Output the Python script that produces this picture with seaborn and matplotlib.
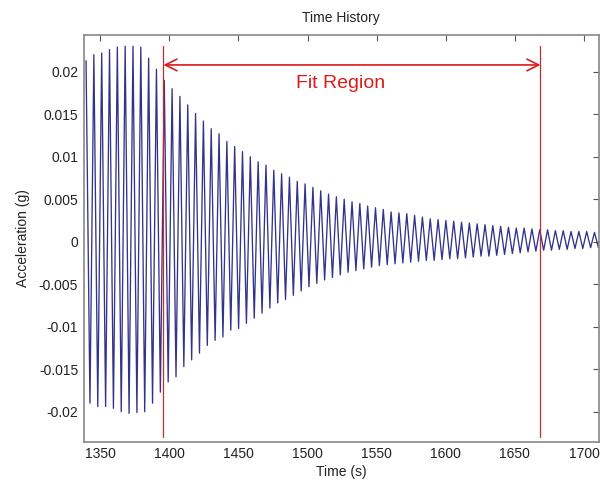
import matplotlib
matplotlib.use("Agg")
import matplotlib.pyplot as plt
import seaborn as sns
import pandas as pd

sns.set_theme(style="white")
plt.rcParams["font.family"] = ["Liberation Sans", "DejaVu Sans"]

# oscillation: one peak and one trough per cycle
t_first_peak = 1339.7
period = 5.66

peaks = [0.0213, 0.0220, 0.0222, 0.0226, 0.0229, 0.0230, 0.0230, 0.0229, 0.0216, 0.0203,
         0.0190, 0.0180, 0.0171, 0.0161, 0.0151, 0.0142, 0.0133, 0.0127, 0.0118, 0.0112,
         0.0106, 0.0100, 0.0094, 0.0090, 0.0084, 0.0080, 0.0076, 0.0071, 0.0068, 0.0064,
         0.0060, 0.0056, 0.0053, 0.0050, 0.0047, 0.0045, 0.0042, 0.0040, 0.0038, 0.0035,
         0.0034, 0.0033, 0.0031, 0.0029, 0.0027, 0.0026, 0.0025, 0.0024, 0.0023, 0.0022,
         0.0021, 0.0020, 0.0019, 0.0018, 0.0017, 0.0016, 0.0016, 0.0015, 0.0014, 0.0014,
         0.0013, 0.0013, 0.0012, 0.0012, 0.0012, 0.0011]

troughs = [-0.0190, -0.0194, -0.0194, -0.0196, -0.0200, -0.0202, -0.0201, -0.0200, -0.0190, -0.0177,
           -0.0165, -0.0159, -0.0147, -0.0139, -0.0131, -0.0122, -0.0116, -0.0112, -0.0104, -0.0102,
           -0.0096, -0.0090, -0.0084, -0.0078, -0.0072, -0.0068, -0.0063, -0.0058, -0.0053, -0.0049,
           -0.0045, -0.0042, -0.0039, -0.0036, -0.0034, -0.0032, -0.0030, -0.0028, -0.0027, -0.0026,
           -0.0025, -0.0024, -0.0023, -0.0022, -0.0022, -0.0021, -0.0020, -0.0020, -0.0019, -0.0018,
           -0.0017, -0.0017, -0.0016, -0.0015, -0.0014, -0.0013, -0.0012, -0.0011, -0.0010, -0.0010,
           -0.0009, -0.0009, -0.0008, -0.0008, -0.0007, -0.0007]

fit_start = 1395.7
fit_end = 1668.5

xticks = [1350, 1400, 1450, 1500, 1550, 1600, 1650, 1700]
yticks = [0.02, 0.015, 0.01, 0.005, 0, -0.005, -0.01, -0.015, -0.02]
ytick_labels = ["0.02", "0.015", "0.01", "0.005", "0", "-0.005", "-0.01", "-0.015", "-0.02"]

rows = []
for k in range(len(peaks)):
    rows.append((t_first_peak + k * period, peaks[k]))
    rows.append((t_first_peak + (k + 0.5) * period, troughs[k]))
df = pd.DataFrame(rows, columns=["time", "accel"])

fig = plt.figure(figsize=(6, 4.83), dpi=100)
ax = fig.add_axes([0.1395, 0.0855, 0.8585, 0.8425])

sns.lineplot(data=df, x="time", y="accel", ax=ax, color="#33338a", lw=0.95,
             estimator=None, sort=False)

# fit region markers
ax.plot([fit_start, fit_start], [-0.023, 0.023], color="#cc2a2a", lw=0.9)
ax.plot([fit_end, fit_end], [-0.023, 0.023], color="#cc2a2a", lw=0.9)
ax.annotate("", xy=(fit_start, 0.0208), xytext=(fit_end, 0.0208),
            arrowprops=dict(arrowstyle="<->,head_length=0.7,head_width=0.35",
                            color="#dd1a1a", lw=1.2, shrinkA=0, shrinkB=0))
ax.text(1524, 0.01867, "Fit Region", color="#dd1a1a", fontsize=14,
        ha="center", va="center")

ax.set_xlim(1338, 1710.7)
ax.set_ylim(-0.02353, 0.02435)
ax.set_xticks(xticks)
ax.set_yticks(yticks)
ax.set_yticklabels(ytick_labels)
ax.tick_params(direction="in", top=True, right=True, length=4, width=0.8,
               color="#555555", labelsize=10, labelcolor="#222222", pad=4)
for s in ax.spines.values():
    s.set_color("#888888")
    s.set_linewidth(1.2)

ax.set_title("Time History", fontsize=10, color="#222222", pad=9)
ax.set_xlabel("Time (s)", fontsize=10, color="#222222", labelpad=3)
ax.set_ylabel("Acceleration (g)", fontsize=10, color="#222222", labelpad=6)

fig.savefig("out.png", dpi=100, facecolor="white")
